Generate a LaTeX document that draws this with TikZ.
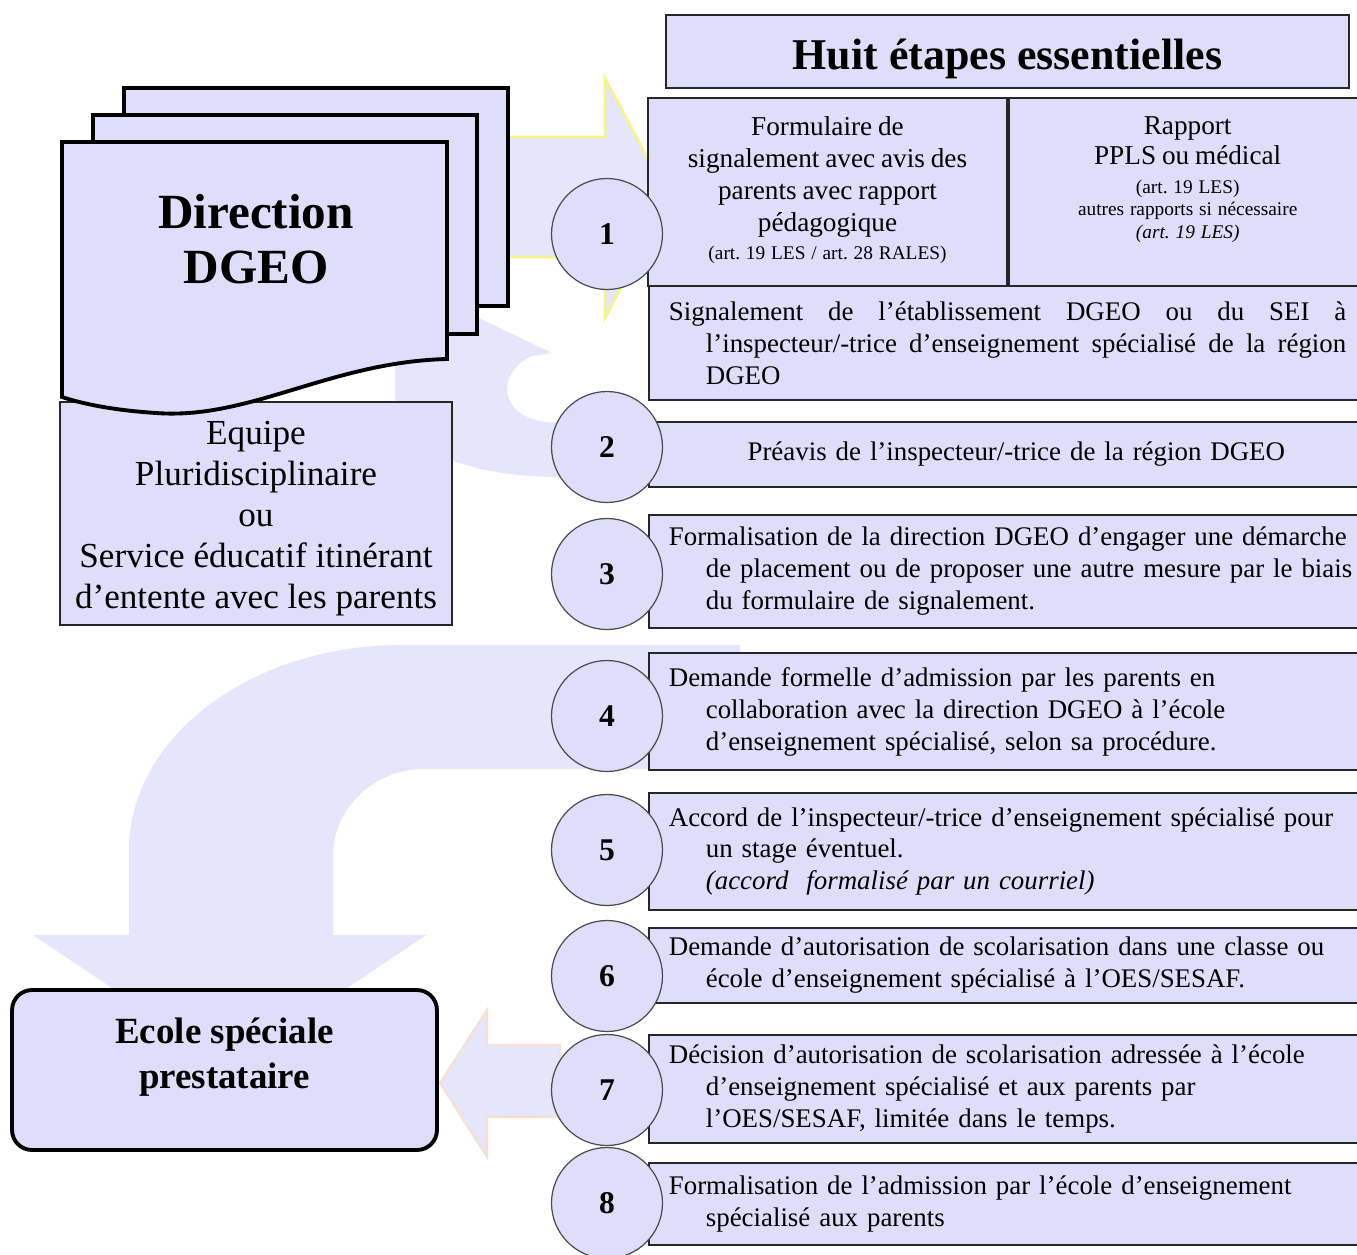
\documentclass[tikz,border=0pt]{standalone}
\usepackage{fontspec}
\setmainfont{Liberation Serif}
\usetikzlibrary{positioning}
\frenchspacing
\definecolor{lav}{RGB}{222,222,250}
\definecolor{lavbg}{RGB}{229,229,251}
\definecolor{arrowyel}{RGB}{245,245,140}
\definecolor{arrowpeach}{RGB}{247,224,210}
\newcommand{\steptext}[1]{{\parindent=0pt\hangindent=0.74cm\hangafter=1\relax #1\par}}
\newcommand{\stepbreak}{\hfil\break}
\tikzset{
  stepbox/.style={rectangle, draw=black!85, line width=1pt, fill=lav, anchor=west,
    inner xsep=0.4cm, inner ysep=0pt, text width=13.9cm, align=left,
    font=\fontsize{15.3}{18.2}\selectfont},
  cellbox/.style={rectangle, draw=black!85, line width=1pt, fill=lav, inner sep=0pt},
  celltext/.style={inner sep=0pt, text width=6.8cm, align=center},
  stepnum/.style={circle, draw=black!70, line width=0.7pt, fill=lav,
    minimum size=2.22cm, inner sep=0pt, font=\fontsize{18}{20}\selectfont\bfseries},
  sheet/.style={draw=black, line width=2.2pt, fill=lav},
  plainbox/.style={rectangle, draw=black!85, line width=1pt, fill=lav, align=center}
}

\begin{document}
\begin{tikzpicture}[x=0.02cm, y=-0.02cm]
\useasboundingbox (0,0) rectangle (1357,1255);
\fill[white] (0,0) rectangle (1357,1255);

\filldraw[fill=lavbg, draw=arrowyel, line width=1.5pt]
  (470,137) -- (605,137) -- (605,78) -- (668,197) -- (605,318) -- (605,257) -- (470,257) -- cycle;
\fill[lavbg] (560,477) .. controls (470,477) and (395,450) .. (395,395) -- (395,340) -- (420,290)
  -- (552,353) -- (532,356) .. controls (495,372) and (495,423) .. (560,423) -- cycle;
\fill[lavbg] (740,645) -- (402,645) .. controls (251,645) and (129,737) .. (129,850) -- (129,935)
  -- (33,935) -- (230,1067) -- (426,935) -- (333,935) -- (333,856)
  .. controls (333,808) and (374,769) .. (424,769) -- (740,769) -- cycle;
\filldraw[fill=lavbg, draw=arrowpeach, line width=1.2pt]
  (560,1045) -- (487,1045) -- (487,1010) -- (440,1083) -- (487,1157) -- (487,1117) -- (560,1117) -- cycle;

\filldraw[sheet] (124,88) rectangle (508,306);
\filldraw[sheet] (93,115) rectangle (477,334);
\node[plainbox, minimum width=7.84cm, minimum height=4.46cm] (team) at (256,513.5) {};
\node[font=\fontsize{20}{23.3}\selectfont, align=center] (teamtxt) at ([yshift=-0.1cm]team.center)
  {Equipe\\Pluridisciplinaire\\ou\\Service éducatif itinérant\\d’entente avec les parents};
\filldraw[sheet] (62,142) -- (447,142) -- (447,359) .. controls (330,362) and (250,420) .. (156,413)
  .. controls (110,410) and (80,403) .. (62,397) -- cycle;
\node[font=\fontsize{28}{31.2}\selectfont\bfseries, align=center] (dgeo) at (256,239) {Direction\\DGEO};

\node[draw=black, line width=2.2pt, rounded corners=0.4cm, fill=lav, minimum width=8.5cm,
  minimum height=3.2cm] (ecole) at (224.5,1070) {};
\node[font=\fontsize{21}{25.5}\selectfont\bfseries, align=center] (ecoletxt)
  at ([yshift=0.26cm]ecole.center) {Ecole spéciale\\prestataire};

\node[plainbox, minimum width=13.66cm, minimum height=1.46cm, font=\fontsize{25}{28}\selectfont\bfseries,
  text height=0.9cm, text depth=0.18cm] (title) at (1007.5,51.5) {Huit étapes essentielles};

\node[cellbox, minimum width=7.18cm, minimum height=3.76cm] (cellA) at (827.5,192) {};
\node[cellbox, minimum width=7.4cm, minimum height=3.76cm, anchor=west] (cellB) at (cellA.east) {};
\node[celltext, below=0.38cm of cellA.north] (formA) {%
  {\fontsize{15.5}{18.2}\selectfont Formulaire de\\ signalement avec avis des\\ parents avec rapport\\ pédagogique\par}
  {\fontsize{11}{15.9}\selectfont (art. 19 LES / art. 28 RALES)\par}};
\node[celltext, below=0.38cm of cellB.north, xshift=-0.12cm] (formB) {%
  {\fontsize{15.5}{17}\selectfont Rapport\\ PPLS ou médical\par}
  {\fontsize{11}{16.4}\selectfont (art. 19 LES)\par}
  {\fontsize{11}{13}\selectfont autres rapports si nécessaire\\ \textit{(art. 19 LES)}\par}};

\node[stepbox, align=justify, text width=13.55cm, minimum height=2.28cm] (sig) at (648,343)
  {\steptext{Signalement de l’établissement DGEO ou du SEI à\linebreak l’inspecteur/-trice d’enseignement spécialisé de la région\linebreak DGEO}};
\node[stepbox, align=center, minimum height=1.3cm] (s2) at (648,454.5)
  {Préavis de l’inspecteur/-trice de la région DGEO};
\node[stepbox, minimum height=2.26cm] (s3) at (648,571.5)
  {\steptext{Formalisation de la direction DGEO d’engager une démarche\stepbreak de placement ou de proposer une autre mesure par le biais\stepbreak du formulaire de signalement.}};
\node[stepbox, minimum height=2.34cm] (s4) at (648,711.5)
  {\steptext{Demande formelle d’admission par les parents en\stepbreak collaboration avec la direction DGEO à l’école\stepbreak d’enseignement spécialisé, selon sa procédure.}};
\node[stepbox, minimum height=2.34cm] (s5) at (648,851.5)
  {\steptext{Accord de l’inspecteur/-trice d’enseignement spécialisé pour\stepbreak un stage éventuel.\stepbreak \textit{(accord~ formalisé par un courriel)}}};
\node[stepbox, minimum height=1.5cm] (s6) at (648,965.5)
  {\steptext{Demande d’autorisation de scolarisation dans une classe ou\stepbreak école d’enseignement spécialisé à l’OES/SESAF.}};
\node[stepbox, minimum height=2.16cm] (s7) at (648,1089)
  {\steptext{Décision d’autorisation de scolarisation adressée à l’école\stepbreak d’enseignement spécialisé et aux parents par\stepbreak l’OES/SESAF, limitée dans le temps.}};
\node[stepbox, minimum height=1.64cm] (s8) at (648,1204)
  {\steptext{Formalisation de l’admission par l’école d’enseignement\stepbreak spécialisé aux parents}};

\node[stepnum] (n1) at (607,234) {1};
\node[stepnum] (n2) at (607,447) {2};
\node[stepnum] (n3) at (607,574) {3};
\node[stepnum] (n4) at (607,716) {4};
\node[stepnum] (n5) at (607,850) {5};
\node[stepnum] (n6) at (607,976) {6};
\node[stepnum] (n7) at (607,1090) {7};
\node[stepnum] (n8) at (607,1203) {8};

\end{tikzpicture}
\end{document}
